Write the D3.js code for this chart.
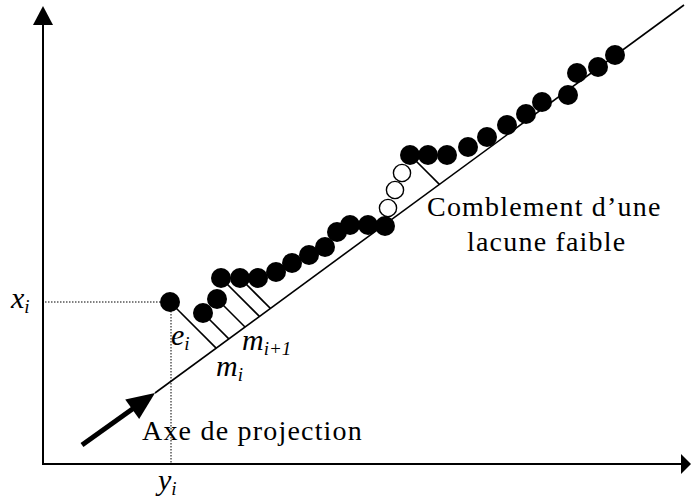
<!DOCTYPE html>
<html>
<head>
<meta charset="utf-8">
<script src="https://cdn.jsdelivr.net/npm/d3@7/dist/d3.min.js"></script>
<style>
body { margin: 0; background: #fff; }
text { font-family: "Liberation Serif", "Times New Roman", serif; fill: #000; }
</style>
</head>
<body>
<svg id="chart" width="691" height="499"></svg>
<script>
// filled points [x, y] in chart units
var pointsX = [25.4, 32.0, 34.8, 35.6, 39.4, 43.0, 46.6, 49.8, 53.2, 56.4, 58.8, 61.4, 65.0, 68.4,
               73.4, 77.0, 80.8, 85.0, 88.8, 92.8, 96.6, 99.8, 105.0, 106.8, 111.0, 114.4]
var pointsY = [32.4, 30.2, 33.0, 37.2, 37.2, 37.2, 38.4, 40.2, 41.8, 43.4, 46.4, 47.8, 47.8, 47.6,
               61.8, 61.8, 61.8, 63.4, 65.4, 67.8, 70.0, 72.4, 73.8, 78.2, 79.4, 81.8]
// filled-in gap (open circles)
var gapX = [69.0, 70.4, 71.8]
var gapY = [51.2, 54.8, 58.2]
// points that get a projection segment
var projected = [0, 1, 2, 3, 4, 14]
// projection axis and the thick arrow
var axisLine = [[22.4, 14.2], [128.2, 91.8]]
var arrowTail = [7.8, 3.8]

var svg = d3.select('#chart')
var width = +svg.attr('width')
var height = +svg.attr('height')

var x = d3.scaleLinear().domain([0, 130]).range([43, 693])
var y = d3.scaleLinear().domain([0, 92]).range([464, 4])

var points = pointsX.map((d, i) => [d, pointsY[i]])
var gap = gapX.map((d, i) => [d, gapY[i]])

// axes with arrow heads
svg.append('line').attr('x1', x(0)).attr('y1', y(0)).attr('x2', x(0)).attr('y2', 24)
    .attr('stroke', '#000').attr('stroke-width', 2)
svg.append('path').attr('d', 'M' + (x(0) - 10) + ',25L' + x(0) + ',6L' + (x(0) + 10) + ',25Z')
svg.append('line').attr('x1', x(0) - 1).attr('y1', y(0)).attr('x2', 682).attr('y2', y(0))
    .attr('stroke', '#000').attr('stroke-width', 2)
svg.append('path').attr('d', 'M681,' + (y(0) - 10) + 'L691,' + y(0) + 'L681,' + (y(0) + 10) + 'Z')

// dotted guides for the isolated point
var p0 = points[0]
svg.append('line').attr('x1', x(0) + 2).attr('y1', y(p0[1])).attr('x2', x(p0[0])).attr('y2', y(p0[1]))
    .attr('stroke', '#000').attr('stroke-width', 1).attr('stroke-dasharray', '1.5,1.5')
svg.append('line').attr('x1', x(p0[0]) + 1).attr('y1', y(p0[1])).attr('x2', x(p0[0]) + 1).attr('y2', y(0))
    .attr('stroke', '#000').attr('stroke-width', 1).attr('stroke-dasharray', '1.5,1.5')

// projection axis
svg.append('line')
    .attr('x1', x(axisLine[0][0])).attr('y1', y(axisLine[0][1]))
    .attr('x2', x(axisLine[1][0])).attr('y2', y(axisLine[1][1]))
    .attr('stroke', '#000').attr('stroke-width', 1.6)

// segments from points down to the axis, along a 45 degree direction
var k = (axisLine[1][1] - axisLine[0][1]) / (axisLine[1][0] - axisLine[0][0])
function foot(p) {
    var t = (p[1] - axisLine[0][1] - k * (p[0] - axisLine[0][0])) / (1 + k)
    return [p[0] + t, p[1] - t]
}
svg.append('g').selectAll('line').data(projected).enter()
    .append('line')
    .attr('x1', d => x(points[d][0])).attr('y1', d => y(points[d][1]))
    .attr('x2', d => x(foot(points[d])[0])).attr('y2', d => y(foot(points[d])[1]))
    .attr('stroke', '#000').attr('stroke-width', 1.6)

// thick arrow
var tx = x(arrowTail[0]), ty = y(arrowTail[1])
var hx = x(axisLine[0][0]), hy = y(axisLine[0][1])
var len = Math.hypot(hx - tx, hy - ty)
var ux = (hx - tx) / len, uy = (hy - ty) / len
var bx = hx - 28 * ux, by = hy - 28 * uy
svg.append('line').attr('x1', tx).attr('y1', ty).attr('x2', bx + 2 * ux).attr('y2', by + 2 * uy)
    .attr('stroke', '#000').attr('stroke-width', 5)
svg.append('path').attr('d', 'M' + hx + ',' + hy +
    'L' + (bx - 12 * uy) + ',' + (by + 12 * ux) +
    'L' + (bx + 12 * uy) + ',' + (by - 12 * ux) + 'Z')

// points
svg.append('g').selectAll('circle').data(points).enter()
    .append('circle')
    .attr('cx', d => x(d[0])).attr('cy', d => y(d[1])).attr('r', 10)
    .attr('fill', '#000')
svg.append('g').selectAll('circle').data(gap).enter()
    .append('circle')
    .attr('cx', d => x(d[0])).attr('cy', d => y(d[1])).attr('r', 8.6)
    .attr('fill', '#fff').attr('stroke', '#000').attr('stroke-width', 1.4)

// labels
function mathLabel(px, py, main, sub) {
    var t = svg.append('text').attr('x', px).attr('y', py)
        .style('font-style', 'italic').style('font-size', '30px')
    t.append('tspan').text(main)
    t.append('tspan').attr('dy', 5).style('font-size', '19px').text(sub)
}
mathLabel(11, 308, 'x', 'i')
mathLabel(158, 490, 'y', 'i')
mathLabel(171, 345, 'e', 'i')
mathLabel(242, 350, 'm', 'i+1')
mathLabel(216, 376, 'm', 'i')

var big = { 'font-size': '28px', 'letter-spacing': '1.2px' }
svg.append('text').attr('x', 142).attr('y', 440).text('Axe de projection')
    .style('font-size', big['font-size']).style('letter-spacing', big['letter-spacing'])
svg.append('text').attr('x', 427).attr('y', 216).text('Comblement d’une')
    .style('font-size', big['font-size']).style('letter-spacing', big['letter-spacing'])
svg.append('text').attr('x', 467).attr('y', 251).text('lacune faible')
    .style('font-size', big['font-size']).style('letter-spacing', big['letter-spacing'])
</script>
</body>
</html>
